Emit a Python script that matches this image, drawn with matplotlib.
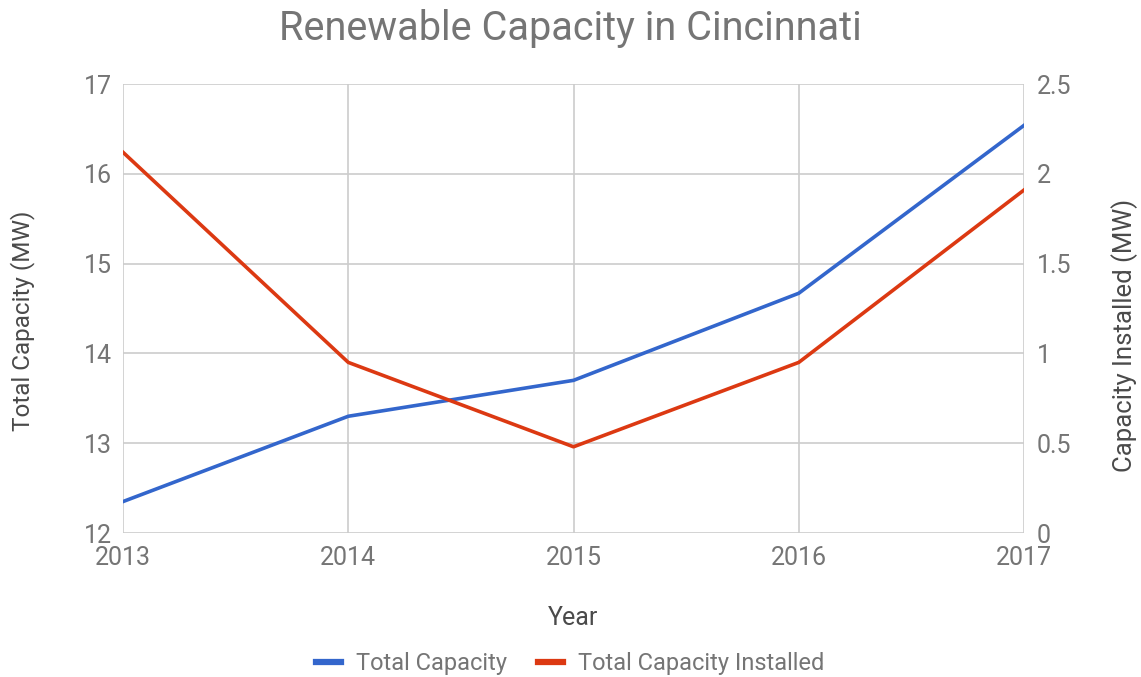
import matplotlib.pyplot as plt

years = [2013, 2014, 2015, 2016, 2017]
total_capacity = [12.35, 13.30, 13.70, 14.67, 16.54]
capacity_installed = [2.12, 0.95, 0.48, 0.95, 1.91]

blue = '#3366cc'
red = '#dc3912'
grey = '#757575'
dark = '#4a4a4a'

plt.rcParams['font.family'] = ['Roboto', 'DejaVu Sans']

fig = plt.figure(figsize=(11.41, 6.77), dpi=100)
ax = fig.add_axes([0.1078, 0.2127, 0.7897, 0.6632])
ax2 = ax.twinx()

ax.plot(years, total_capacity, color=blue, lw=2.6, label='Total Capacity')
ax2.plot(years, capacity_installed, color=red, lw=2.6, label='Total Capacity Installed')

ax.set_xlim(2013, 2017)
ax.set_ylim(12, 17)
ax2.set_ylim(0, 2.5)
ax.set_xticks(years)
ax.set_yticks([12, 13, 14, 15, 16, 17])
ax2.set_yticks([0, 0.5, 1, 1.5, 2, 2.5])
ax2.set_yticklabels(['0', '0.5', '1', '1.5', '2', '2.5'])

ax.grid(True, color='#cccccc', lw=1.2)
ax.set_axisbelow(True)
for a in (ax, ax2):
    for s in a.spines.values():
        s.set_visible(False)
    a.tick_params(length=0, labelsize=18, labelcolor=grey)
ax.tick_params(axis='y', pad=8)
ax2.tick_params(axis='y', pad=9)
ax.tick_params(axis='x', pad=9)

ax.set_xlabel('Year', fontsize=18, color=dark, labelpad=26)
ax.set_ylabel('Total Capacity (MW)', fontsize=17.5, color=dark)
ax2.set_ylabel('Capacity Installed (MW)', fontsize=18.5, color=dark)
ax.yaxis.set_label_coords(-0.112, 0.472)
ax2.yaxis.set_label_coords(1.112, 0.441)
for lab in (ax.yaxis.label, ax2.yaxis.label):
    lab.set_va('center')
    lab.set_ha('center')

fig.suptitle('Renewable Capacity in Cincinnati', fontsize=28.5, color=grey,
             y=0.958, va='center')

h1, l1 = ax.get_legend_handles_labels()
h2, l2 = ax2.get_legend_handles_labels()
leg = fig.legend(h1 + h2, l1 + l2, loc='center', bbox_to_anchor=(0.5, 0.02),
                 ncol=2, frameon=False, fontsize=17, handlelength=1.05,
                 columnspacing=1.3, handletextpad=0.65)
for t in leg.get_texts():
    t.set_color(grey)
for line in leg.get_lines():
    line.set_linewidth(4.5)

fig.savefig('out.png', dpi=100)
